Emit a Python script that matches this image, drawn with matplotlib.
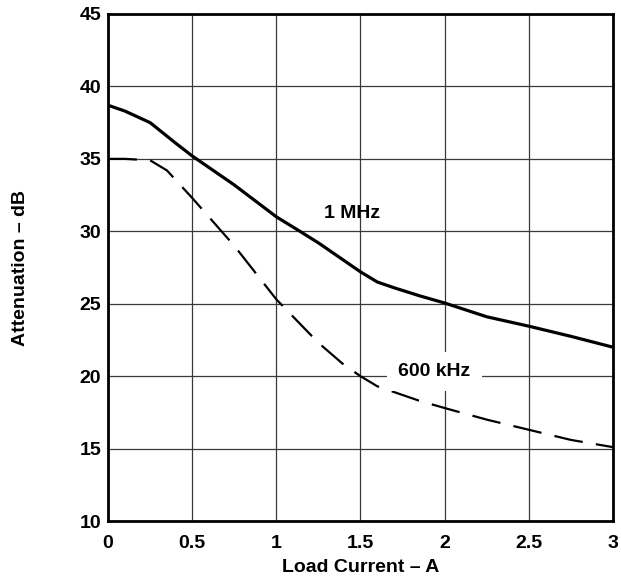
import matplotlib
matplotlib.use("Agg")
import matplotlib.pyplot as plt

plt.rcParams['font.family'] = ['Liberation Sans', 'DejaVu Sans']
plt.rcParams['font.weight'] = 'bold'

# 1 MHz curve
i_1mhz = [0, 0.1, 0.25, 0.4, 0.5, 0.75, 1.0, 1.14, 1.25, 1.4, 1.5, 1.6, 1.7, 1.85, 2.0, 2.25, 2.5, 2.75, 3.0]
att_1mhz = [38.7, 38.3, 37.5, 36.1, 35.2, 33.2, 31.0, 30.0, 29.2, 28.0, 27.2, 26.5, 26.1, 25.55, 25.05, 24.1, 23.45, 22.75, 22.0]

# 600 kHz curve
i_600k = [0, 0.1, 0.25, 0.35, 0.5, 0.75, 1.0, 1.25, 1.4, 1.5, 1.6, 1.7, 1.85, 2.0, 2.25, 2.5, 2.75, 3.0]
att_600k = [35.0, 35.0, 34.9, 34.2, 32.3, 29.0, 25.3, 22.3, 20.8, 20.0, 19.3, 18.9, 18.3, 17.8, 17.0, 16.3, 15.6, 15.1]

xticks = [0, 0.5, 1, 1.5, 2, 2.5, 3]
xticklabels = ["0", "0.5", "1", "1.5", "2", "2.5", "3"]
yticks = [10, 15, 20, 25, 30, 35, 40, 45]

fig = plt.figure(figsize=(6.21, 5.83), dpi=100)
ax = fig.add_axes([0.174, 0.1063, 0.813, 0.8697])

ax.plot(i_1mhz, att_1mhz, color="black", lw=2.3, solid_capstyle="butt", zorder=3)
ax.plot(i_600k, att_600k, color="black", lw=1.6, dashes=(13, 6), zorder=3)

ax.text(1.45, 31.2, "1 MHz", ha="center", va="center", fontsize=14, fontweight="bold", zorder=4)
ax.text(1.94, 20.3, "600 kHz", ha="center", va="center", fontsize=14, fontweight="bold",
        bbox=dict(facecolor="white", edgecolor="none", pad=8), zorder=4)

ax.set_xlim(0, 3)
ax.set_ylim(10, 45)
ax.set_xticks(xticks)
ax.set_xticklabels(xticklabels)
ax.set_yticks(yticks)
ax.tick_params(length=0, labelsize=14)
ax.tick_params(axis="x", pad=10)
ax.tick_params(axis="y", pad=5)
ax.grid(True, color="#3a3a3a", lw=0.9)
for s in ax.spines.values():
    s.set_linewidth(2)

ax.set_xlabel("Load Current – A", fontsize=14, fontweight="bold", labelpad=5)
ax.set_ylabel("Attenuation – dB", fontsize=14, fontweight="bold", labelpad=36)

fig.savefig("out.png", dpi=100)
